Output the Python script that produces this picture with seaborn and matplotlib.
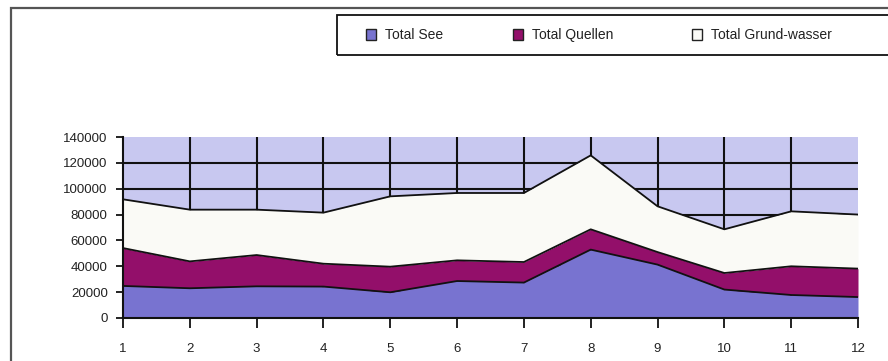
import matplotlib
matplotlib.use("Agg")
import matplotlib.pyplot as plt
from matplotlib.patches import Patch, Rectangle
import numpy as np
import pandas as pd
import seaborn as sns

# Monthly totals by source
months = [1, 2, 3, 4, 5, 6, 7, 8, 9, 10, 11, 12]
total_see = [24800, 23000, 24500, 24300, 19900, 28600, 27400, 52900, 41300, 22000, 17800, 16200]
total_quellen = [29300, 20800, 24200, 17700, 19800, 16000, 15900, 15700, 9700, 12800, 22200, 22000]
total_grundwasser = [37700, 40000, 35100, 39500, 54400, 52100, 53400, 57200, 35400, 33800, 42500, 41800]

series_names = ["Total See", "Total Quellen", "Total Grund-wasser"]
series_colors = ["#7873d0", "#930f6a", "#fafaf6"]
y_ticks = [0, 20000, 40000, 60000, 80000, 100000, 120000, 140000]

df = pd.DataFrame({
    "Monat": months,
    series_names[0]: total_see,
    series_names[1]: total_quellen,
    series_names[2]: total_grundwasser,
})

sns.set_theme(style="white")
plt.rcParams["font.family"] = ["Liberation Sans", "DejaVu Sans"]

fig = plt.figure(figsize=(8.88, 3.61), dpi=100)
ax = fig.add_axes([123 / 888, 1 - 318 / 361, 735 / 888, 181 / 361])
ax.set_facecolor("#c8c8f0")

# stacked areas
layers = [df[n].to_numpy() for n in series_names]
ax.stackplot(df["Monat"], *layers, colors=series_colors, zorder=2, linewidth=0)

# outlines of the cumulative stacks
cum = np.cumsum(np.vstack(layers), axis=0)
for row in cum:
    sns.lineplot(x=df["Monat"], y=row, ax=ax, color="#111111", linewidth=1.3, zorder=3)

ax.set_xlim(1, 12)
ax.set_ylim(0, 140000)
ax.set_xticks(months)
ax.set_xticklabels([str(m) for m in months])
ax.set_yticks(y_ticks)
ax.set_yticklabels([str(v) for v in y_ticks])
ax.set_xlabel("")
ax.set_ylabel("")

# black grid behind the areas
ax.set_axisbelow(True)
for xv in months[1:-1]:
    ax.axvline(xv, color="#111111", linewidth=1.5, zorder=1)
for yv in y_ticks[1:-1]:
    ax.axhline(yv, color="#111111", linewidth=1.5, zorder=1)

for side in ["top", "right"]:
    ax.spines[side].set_visible(False)
for side in ["left", "bottom"]:
    ax.spines[side].set_color("#111111")
    ax.spines[side].set_linewidth(1.5)
    ax.spines[side].set_zorder(4)

ax.tick_params(axis="x", direction="out", length=7, width=1.3, color="#111111",
               pad=11, labelsize=9.5, labelcolor="#222222", bottom=True)
ax.tick_params(axis="y", direction="out", length=5, width=1.3, color="#111111",
               pad=6, labelsize=9.5, labelcolor="#222222", left=True)

# outer chart frame
fig.patches.append(Rectangle((11 / 888, -0.1), 1.2, 1.1 - 8 / 361,
                             transform=fig.transFigure, fill=False,
                             edgecolor="#555555", linewidth=1.6, zorder=0))

# legend frame
fig.patches.append(Rectangle((337 / 888, 1 - 55 / 361), 0.7, 40 / 361,
                             transform=fig.transFigure, fill=False,
                             edgecolor="#111111", linewidth=1.3, zorder=0))

# one legend entry per series, placed along the legend frame
entry_x = [366, 513, 692]
for name, color, xpx in zip(series_names, series_colors, entry_x):
    leg = fig.legend([Patch(facecolor=color, edgecolor="#222222", linewidth=1.0)], [name],
                     loc="center left", bbox_to_anchor=(xpx / 888, 1 - 35 / 361),
                     frameon=False, fontsize=10, handlelength=0.75, handleheight=0.85,
                     handletextpad=0.6, borderpad=0, borderaxespad=0)
    for t in leg.get_texts():
        t.set_color("#222222")

fig.savefig("out.png", dpi=100)
